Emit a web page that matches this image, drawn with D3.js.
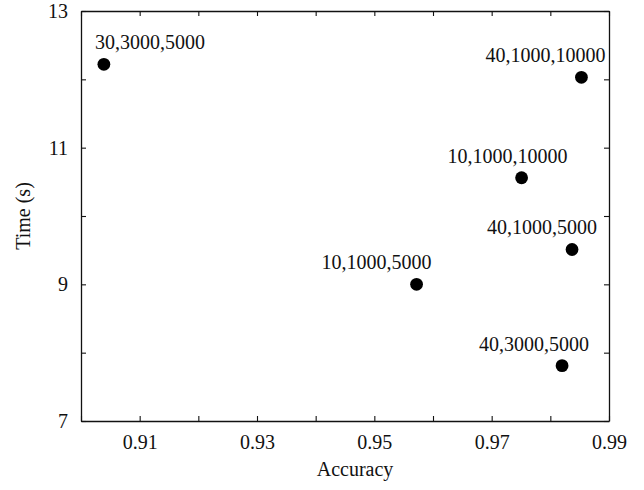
<!DOCTYPE html>
<html>
<head>
<meta charset="utf-8">
<script src="https://cdn.jsdelivr.net/npm/d3@7"></script>
<style>
  body { margin: 0; background: #fff; }
  text { font-family: "Liberation Serif", "Times New Roman", serif; fill: #111; }
</style>
</head>
<body>
<svg id="viz" width="644" height="490"></svg>
<script>
// data
var labels   = ["30,3000,5000", "40,1000,10000", "10,1000,10000", "40,1000,5000", "10,1000,5000", "40,3000,5000"];
var accuracy = [0.9039, 0.9853, 0.9751, 0.9837, 0.9572, 0.9820];
var times    = [12.22, 12.03, 10.56, 9.51, 9.00, 7.81];
var xTicks = [0.90, 0.91, 0.92, 0.93, 0.94, 0.95, 0.96, 0.97, 0.98, 0.99];
var xLabeled = [0.91, 0.93, 0.95, 0.97, 0.99];
var yTicks = [7, 8, 9, 10, 11, 12, 13];
var yLabeled = [7, 9, 11, 13];
// label offsets (layout only)
var labelDx = [46, -36, -14, -30, -40, -28];

var svg = d3.select("#viz");
var m = {left: 81, right: 609, top: 11, bottom: 421};
var fs = 20;

var x = d3.scaleLinear().domain([0.90, 0.99]).range([m.left, m.right]);
var y = d3.scaleLinear().domain([7, 13]).range([m.bottom, m.top]);

var fmtX = d3.format(".2f");
var tickLen = 5;

function xFmt(d){ return xLabeled.some(v => Math.abs(v-d) < 1e-9) ? fmtX(d) : ""; }
function yFmt(d){ return yLabeled.indexOf(d) >= 0 ? d : ""; }

// bottom
svg.append("g").attr("transform", "translate(0," + m.bottom + ")")
  .call(d3.axisBottom(x).tickValues(xTicks).tickFormat(xFmt).tickSizeInner(-tickLen).tickSizeOuter(0).tickPadding(14));
// top
svg.append("g").attr("transform", "translate(0," + m.top + ")")
  .call(d3.axisTop(x).tickValues(xTicks).tickFormat("").tickSizeInner(-tickLen).tickSizeOuter(0));
// left
svg.append("g").attr("transform", "translate(" + m.left + ",0)")
  .call(d3.axisLeft(y).tickValues(yTicks).tickFormat(yFmt).tickSizeInner(-tickLen).tickSizeOuter(0).tickPadding(13));
// right
svg.append("g").attr("transform", "translate(" + m.right + ",0)")
  .call(d3.axisRight(y).tickValues(yTicks).tickFormat("").tickSizeInner(-tickLen).tickSizeOuter(0));

svg.selectAll(".domain").attr("stroke", "#111").attr("stroke-width", 1.3);
svg.selectAll(".tick line").attr("stroke", "#111").attr("stroke-width", 1.1);
svg.selectAll(".tick text").style("font-family", "Liberation Serif, serif").attr("font-size", fs).attr("fill", "#111");

// axis titles
svg.append("text")
  .attr("x", 355).attr("y", 476)
  .attr("text-anchor", "middle")
  .attr("font-size", fs)
  .text("Accuracy");

svg.append("text")
  .attr("transform", "translate(30,216) rotate(-90)")
  .attr("text-anchor", "middle")
  .attr("font-size", fs)
  .text("Time (s)");

var pts = labels.map((l, i) => ({label: l, acc: accuracy[i], t: times[i], dx: labelDx[i]}));

svg.append("g").selectAll("circle")
  .data(pts).enter().append("circle")
  .attr("cx", d => x(d.acc))
  .attr("cy", d => y(d.t))
  .attr("r", 6.4)
  .attr("fill", "#000");

svg.append("g").selectAll("text")
  .data(pts).enter().append("text")
  .attr("x", d => x(d.acc) + d.dx)
  .attr("y", d => y(d.t) - 15)
  .attr("text-anchor", "middle")
  .attr("font-size", fs)
  .text(d => d.label);
</script>
</body>
</html>
